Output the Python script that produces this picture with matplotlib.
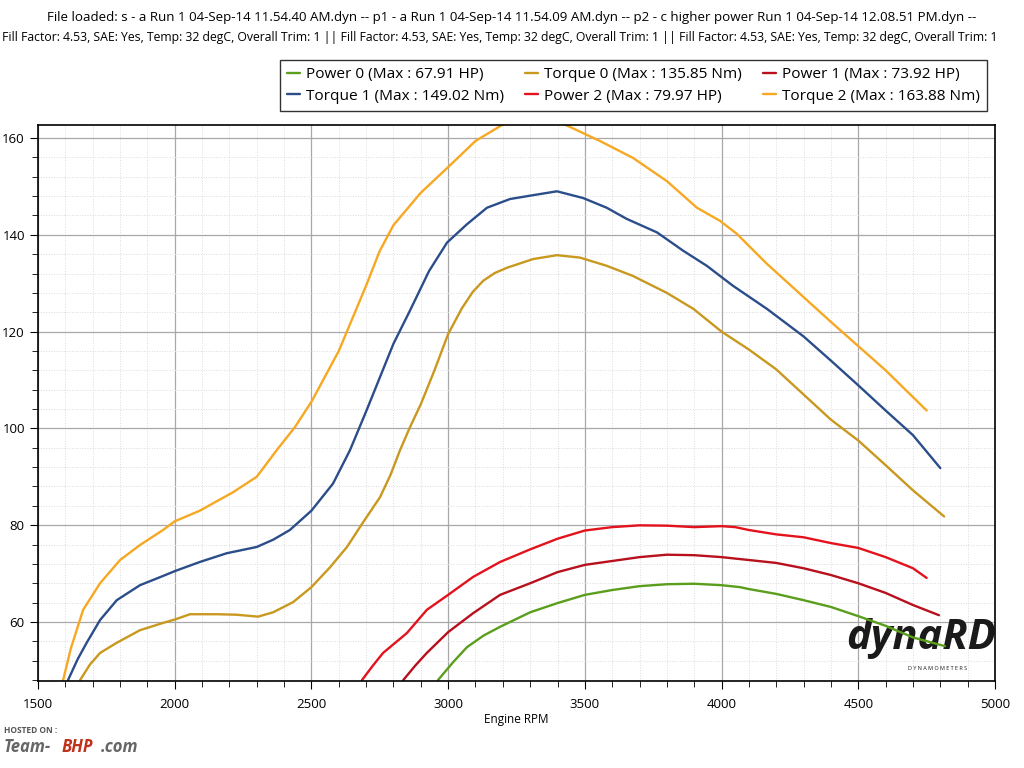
import matplotlib.pyplot as plt
from matplotlib.ticker import MultipleLocator

# (rpm, value)
power0_rpm = [2963, 3020, 3069, 3130, 3190, 3300, 3400, 3500, 3600, 3700, 3800, 3900, 4000, 4067, 4100, 4200, 4300, 4400,
              4500, 4600, 4700, 4817]
power0_val = [48, 51.8, 54.8, 57.2, 59, 62, 63.9, 65.6, 66.6, 67.4, 67.8, 67.9, 67.6, 67.2, 66.8, 65.8, 64.5, 63.1,
              61.2, 59.2, 56.8, 55]

torque0_rpm = [1654, 1690, 1727, 1788, 1873, 1957, 2000, 2056, 2155, 2225, 2305, 2360, 2433, 2500, 2568, 2630, 2689,
               2751, 2790, 2824, 2860, 2900, 2950, 3000, 3050, 3090, 3128, 3170, 3215, 3311, 3398, 3482, 3580, 3676,
               3800, 3897, 4000, 4100, 4200, 4300, 4400, 4500, 4600, 4700, 4814]
torque0_val = [48, 51.2, 53.6, 55.7, 58.3, 59.8, 60.5, 61.6, 61.6, 61.5, 61.1, 62, 64.1, 67.2, 71.3, 75.5, 80.6,
               85.8, 90.5, 95.5, 100.2, 105, 112, 119.5, 124.8, 128.2, 130.5, 132.1, 133.2, 135, 135.8, 135.3, 133.6, 131.5,
               128, 124.7, 120, 116.3, 112.2, 107, 101.8, 97.5, 92.4, 87.2, 81.8]

power1_rpm = [2836, 2880, 2922, 3000, 3091, 3190, 3300, 3400, 3500, 3600, 3700, 3800, 3900, 4000, 4100, 4200, 4300,
              4400, 4500, 4600, 4700, 4795]
power1_val = [48, 51, 53.6, 57.9, 61.8, 65.6, 68, 70.3, 71.8, 72.6, 73.4, 73.9, 73.8, 73.4, 72.8, 72.2, 71.1,
              69.7, 68, 66, 63.5, 61.4]

torque1_rpm = [1610, 1645, 1678, 1727, 1788, 1873, 1957, 2000, 2092, 2190, 2300, 2360, 2421, 2500, 2579, 2641, 2700,
               2750, 2800, 2860, 2930, 2996, 3069, 3142, 3226, 3311, 3398, 3494, 3580, 3653, 3764, 3860, 3946, 4041,
               4166, 4300, 4400, 4500, 4600, 4700, 4800]
torque1_val = [48, 52.3, 55.7, 60.4, 64.5, 67.6, 69.5, 70.5, 72.4, 74.2, 75.5, 77, 79, 83, 88.6, 95.5, 103.5,
               110.5, 117.5, 124.3, 132.5, 138.4, 142.2, 145.6, 147.4, 148.2, 149, 147.6, 145.6, 143.3, 140.5, 136.7, 133.6,
               129.5, 124.7, 119, 114, 108.9, 103.7, 98.6, 91.8]

power2_rpm = [2685, 2725, 2762, 2849, 2922, 3000, 3091, 3190, 3300, 3400, 3500, 3600, 3700, 3800, 3900, 4000, 4050,
              4100, 4200, 4300, 4400, 4500, 4600, 4700, 4750]
power2_val = [48, 51, 53.6, 57.7, 62.5, 65.6, 69.3, 72.4, 75, 77.2, 78.9, 79.6, 79.97, 79.9, 79.6, 79.8, 79.6,
              79, 78.1, 77.5, 76.3, 75.3, 73.4, 71.1, 69.1]

torque2_rpm = [1592, 1620, 1665, 1727, 1800, 1873, 1957, 2000, 2092, 2213, 2300, 2373, 2440, 2500, 2600, 2700, 2750,
               2800, 2900, 3000, 3100, 3200, 3300, 3400, 3555, 3676, 3800, 3910, 3994, 4056, 4166, 4287, 4400, 4500,
               4600, 4750]
torque2_val = [48, 54.5, 62.5, 68, 72.8, 75.9, 79, 80.8, 83, 86.8, 90, 95.5, 100.3, 105.5, 116, 129.5, 136.7,
               142, 148.7, 154, 159.4, 162.8, 163.8, 163.5, 159.4, 155.9, 151.1, 145.6, 142.9, 140.2, 134, 127.8, 122, 117,
               112, 103.7]

series = [
    ("Power 0 (Max : 67.91 HP)", power0_rpm, power0_val, "#5a9e1c"),
    ("Torque 1 (Max : 149.02 Nm)", torque1_rpm, torque1_val, "#2b4d8a"),
    ("Torque 0 (Max : 135.85 Nm)", torque0_rpm, torque0_val, "#c9981f"),
    ("Power 2 (Max : 79.97 HP)", power2_rpm, power2_val, "#e4121c"),
    ("Power 1 (Max : 73.92 HP)", power1_rpm, power1_val, "#b8101c"),
    ("Torque 2 (Max : 163.88 Nm)", torque2_rpm, torque2_val, "#f7a823"),
]

plt.rcParams['font.family'] = ['Open Sans', 'DejaVu Sans']

fig = plt.figure(figsize=(10.24, 7.68), dpi=100)
ax = fig.add_axes([38 / 1024, 87 / 768, 957 / 1024, 556 / 768])

handles = []
for label, x, y, col in series:
    h, = ax.plot(x, y, color=col, lw=1.7, label=label, solid_joinstyle='round', solid_capstyle='round')
    handles.append(h)

ax.set_xlim(1500, 5000)
ax.set_ylim(47.8, 162.7)
ax.xaxis.set_major_locator(MultipleLocator(500))
ax.xaxis.set_minor_locator(MultipleLocator(100))
ax.yaxis.set_major_locator(MultipleLocator(20))
ax.yaxis.set_minor_locator(MultipleLocator(4))
ax.grid(which='major', color='#a8a8a8', lw=0.9)
ax.grid(which='minor', color='#dcdcdc', lw=0.7, ls=':')
ax.set_axisbelow(True)
ax.tick_params(which='major', length=6, labelsize=9.5, direction='out')
ax.tick_params(which='minor', length=4, direction='out')
ax.tick_params(axis='x', pad=6)
for s in ax.spines.values():
    s.set_linewidth(1.2)
ax.set_xlabel("Engine RPM", fontsize=8.5, labelpad=2)

# dyno brand logo
ax.text(4730, 56.5, "dynaRD", fontsize=30, fontweight='bold', style='italic',
        color='#1a1a1a', ha='center', va='center', zorder=1)
ax.text(4790, 50.3, "D Y N A M O M E T E R S", fontsize=4, color='#1a1a1a',
        ha='center', va='center', zorder=1)

fig.text(0.5, 1 - 18 / 768, "File loaded: s - a Run 1 04-Sep-14 11.54.40 AM.dyn -- p1 - a Run 1 04-Sep-14 11.54.09 AM.dyn -- "
         "p2 - c higher power Run 1 04-Sep-14 12.08.51 PM.dyn --", ha='center', va='center', fontsize=9.6)
fig.text(2 / 1024, 1 - 38 / 768, "Fill Factor: 4.53, SAE: Yes, Temp: 32 degC, Overall Trim: 1 || Fill Factor: 4.53, SAE: Yes, "
         "Temp: 32 degC, Overall Trim: 1 || Fill Factor: 4.53, SAE: Yes, Temp: 32 degC, Overall Trim: 1",
         ha='left', va='center', fontsize=8.8)

leg = fig.legend(handles=handles, ncol=3, loc='upper right', bbox_to_anchor=(995 / 1024, 1 - 52 / 768),
                 fontsize=11.1, frameon=True, fancybox=False, edgecolor='black', handlelength=0.8,
                 handletextpad=0.4, columnspacing=1.4, borderpad=0.5, labelspacing=0.4)
leg.get_frame().set_linewidth(1.0)

# host watermark
fig.text(4 / 1024, 1 - 733 / 768, "HOSTED ON :", fontsize=6, color='#555555', fontweight='bold')
fig.text(4 / 1024, 1 - 752 / 768, "Team-", fontsize=12, color='#666666', fontweight='bold', style='italic')
fig.text(62 / 1024, 1 - 752 / 768, "BHP", fontsize=12, color='#c0301a', fontweight='bold', style='italic')
fig.text(101 / 1024, 1 - 752 / 768, ".com", fontsize=12, color='#666666', fontweight='bold', style='italic')

fig.savefig("out.png", dpi=100)
